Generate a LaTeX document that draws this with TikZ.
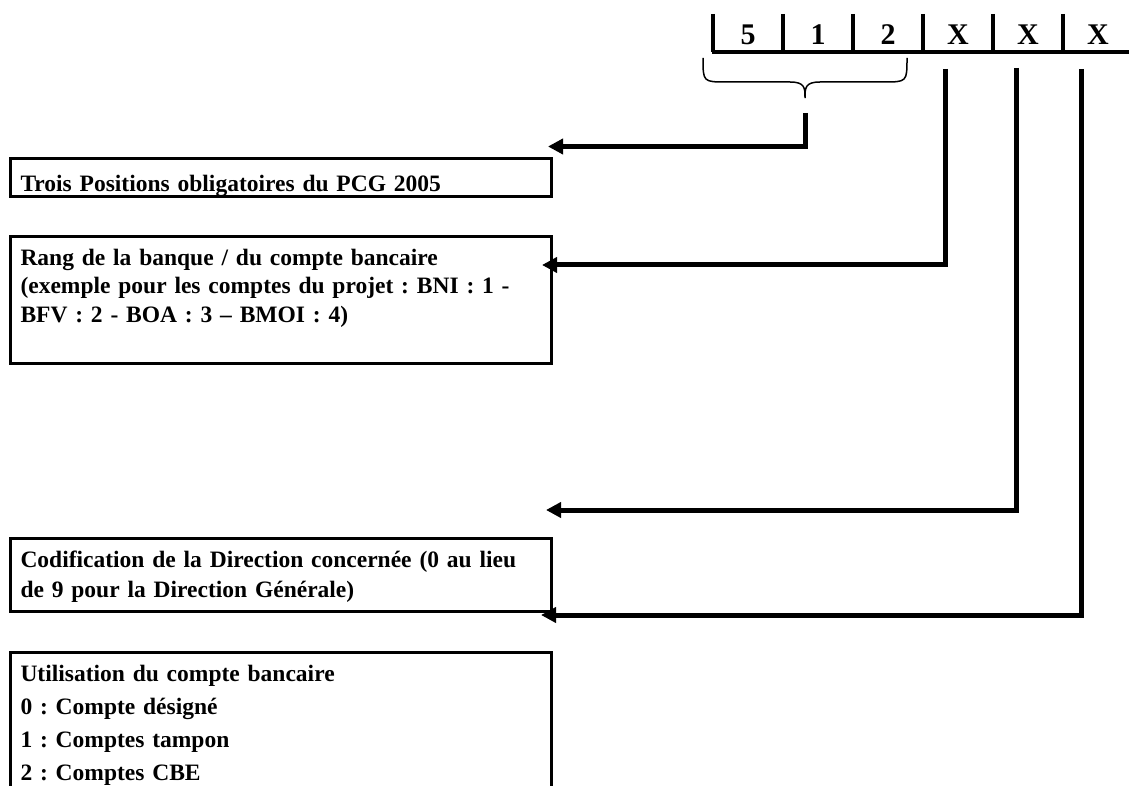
\documentclass[tikz,border=0pt]{standalone}
\usepackage{fontspec}
\setmainfont{Liberation Serif}
\usepackage{tikz}
\usetikzlibrary{arrows.meta,calc}
\frenchspacing

\tikzset{
  codebox/.style={draw, line width=1.5pt, outer sep=0pt, inner xsep=5.25pt, inner ysep=0pt,
    anchor=north west, minimum width=270.75pt, text width=260.25pt, align=left,
    font=\bfseries\fontsize{11.75}{14.25}\selectfont},
  digit/.style={anchor=base, inner sep=0pt, font=\bfseries\fontsize{15}{18}\selectfont},
  cellbar/.style={line width=1.75pt},
  link/.style={line width=2.5pt, -{Triangle[length=7.5pt,width=7.5pt]}},
}

\begin{document}
\begin{tikzpicture}[x=0.5pt,y=-0.5pt]
  \useasboundingbox (0,0) rectangle (1129,786);
  \clip (0,0) rectangle (1129,786);

  % the account number 512XXX
  \foreach \d [count=\i from 0] in {5,1,2,X,X,X} {
    \draw[cellbar] (713+70*\i,14) -- (713+70*\i,52);
    \node[digit] (d\i) at (748+70*\i,44.5) {\d};
  }
  \draw[line width=2pt] (712,52) -- (1129,52);

  % brace under 5 1 2
  \draw[line width=0.75pt] (703,58) .. controls (703,82) and (703,82) .. (727,82) -- (790,82)
    .. controls (805,82) and (805,88) .. (805,98)
    .. controls (805,88) and (805,82) .. (820,82) -- (883,82)
    .. controls (907,82) and (907,82) .. (907,58);

  % explanation boxes
  \node[codebox, text height=16.25pt, text depth=2.75pt] (trois) at (10,159)
    {Trois Positions obligatoires du PCG 2005};
  \node[codebox, text height=14pt, text depth=49pt] (rang) at (10,237)
    {Rang de la banque / du compte bancaire\\
     (exemple pour les comptes du projet : BNI : 1 -\\
     BFV : 2 - BOA : 3 – BMOI : 4)};
  \node[codebox, text height=14.25pt, text depth=22pt,
    font=\bfseries\fontsize{11.75}{15}\selectfont] (codif) at (10,538.5)
    {Codification de la Direction concernée (0 au lieu\\
     de 9 pour la Direction Générale)};
  \node[codebox, text height=14.75pt, text depth=70pt,
    font=\bfseries\fontsize{11.75}{16.5}\selectfont] (usage) at (10,652)
    {Utilisation du compte bancaire\\
     0 : Compte désigné\\
     1 : Comptes tampon\\
     2 : Comptes CBE};

  % links from the positions to the boxes
  \coordinate (stem) at (805,113);
  \coordinate (x3) at (945,69);
  \coordinate (x4) at (1016,68);
  \coordinate (x5) at (1081,69);
  \coordinate (e1) at (548,146.5);
  \coordinate (e2) at (542,265);
  \coordinate (e3) at (546,510);
  \coordinate (e4) at (541,615);
  \draw[link] (stem) |- (e1);
  \draw[link] (x3) |- (e2);
  \draw[link] (x4) |- (e3);
  \draw[link] (x5) |- (e4);
\end{tikzpicture}
\end{document}
